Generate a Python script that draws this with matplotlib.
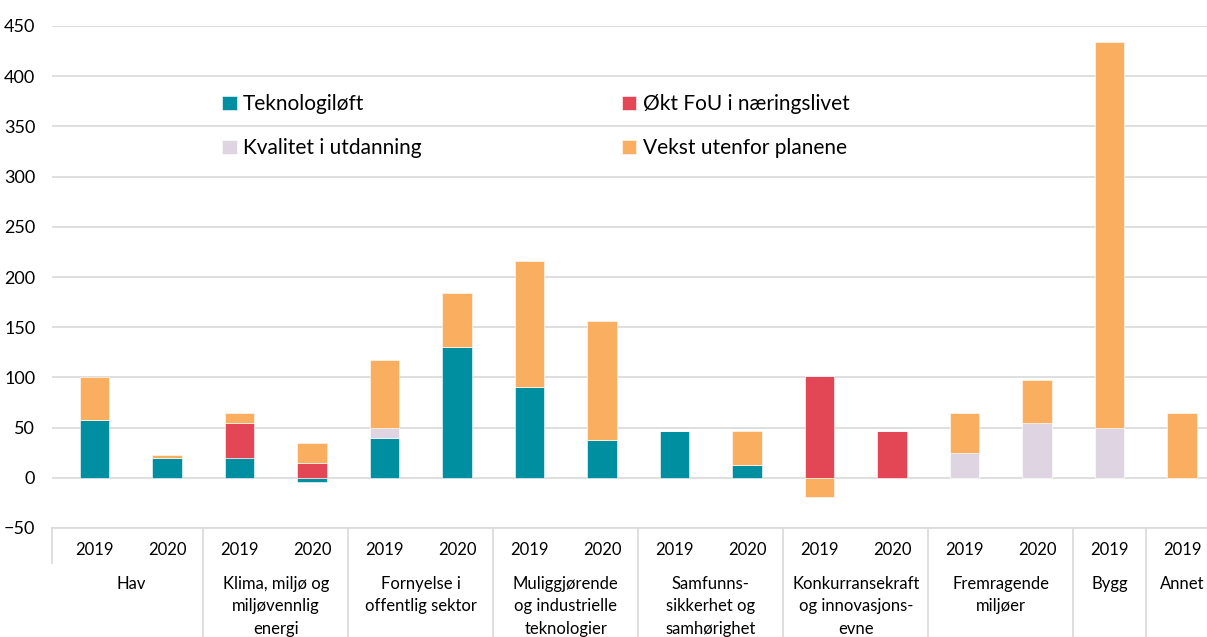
import numpy as np
import matplotlib
matplotlib.use('Agg')
import matplotlib.pyplot as plt
from matplotlib.transforms import blended_transform_factory

plt.rcParams['font.family'] = ['Lato', 'DejaVu Sans']

# one entry per bar slot
years = ["2019", "2020", "2019", "2020", "2019", "2020", "2019", "2020",
         "2019", "2020", "2019", "2020", "2019", "2020", "2019", "2019"]
groups = ["Hav", "Klima, miljø og\nmiljøvennlig\nenergi", "Fornyelse i\noffentlig sektor",
          "Muliggjørende\nog industrielle\nteknologier", "Samfunns-\nsikkerhet og\nsamhørighet",
          "Konkurransekraft\nog innovasjons-\nevne", "Fremragende\nmiljøer", "Bygg", "Annet"]
group_sizes = [2, 2, 2, 2, 2, 2, 2, 1, 1]

teknologi = [58, 20, 20, -4, 40, 130, 90, 38, 47, 13, 0, 0, 0, 0, 0, 0]
fou = [0, 0, 35, 15, 0, 0, 0, 0, 0, 0, 101, 47, 0, 0, 0, 0]
kvalitet = [0, 0, 0, 0, 10, 0, 0, 0, 0, 0, 0, 0, 25, 55, 50, 0]
vekst = [42, 3, 10, 20, 67, 54, 126, 118, 0, 34, -19, 0, 40, 42, 384, 65]

series = [
    ("Teknologiløft", teknologi, "#008FA1"),
    ("Økt FoU i næringslivet", fou, "#E34756"),
    ("Kvalitet i utdanning", kvalitet, "#DFD4E2"),
    ("Vekst utenfor planene", vekst, "#FAAE60"),
]

W, H = 1207, 637
fig = plt.figure(figsize=(W / 100, H / 100), dpi=100)
ax_left, ax_bottom, ax_top = 52, 528, 26
ax = fig.add_axes([ax_left / W, (H - ax_bottom) / H, 1 - ax_left / W, (ax_bottom - ax_top) / H])

x = np.arange(len(years))
pos_base = np.zeros(len(years))
neg_base = np.zeros(len(years))
handles = {}
for name, vals, col in series:
    v = np.array(vals, dtype=float)
    base = np.where(v >= 0, pos_base, neg_base)
    b = ax.bar(x, v, width=0.41, bottom=base, color=col, edgecolor='white', linewidth=0.4,
               label=name, zorder=3)
    handles[name] = b
    pos_base += np.where(v > 0, v, 0)
    neg_base += np.where(v < 0, v, 0)

slot = 72.5
x0 = (ax_left - 94.5) / slot
ax.set_xlim(x0, x0 + (W - ax_left) / slot)
ax.set_ylim(-50, 450)
ax.set_yticks(np.arange(-50, 451, 50))
ax.tick_params(axis='y', length=0, labelsize=13, pad=12, colors='#000000')
ax.set_xticks([])
ax.grid(axis='y', color='#d9d9d9', linewidth=1.2, zorder=0)
for s in ax.spines.values():
    s.set_visible(False)

# category table below the axis
tr = blended_transform_factory(ax.transData, ax.transAxes)
ph = ax_bottom - ax_top
lc = '#d9d9d9'
ax.plot([x0, x0 + 20], [0, 0], transform=tr, color=lc, lw=1.2, clip_on=False)
ax.plot([x0, x0], [0, -35 / ph], transform=tr, color=lc, lw=1.2, clip_on=False)
for i, y in enumerate(years):
    ax.text(i, -22 / ph, y, transform=tr, ha='center', va='center', fontsize=12)
start = 0
for g, n in zip(groups, group_sizes):
    edge = start + n - 0.5
    ax.plot([edge, edge], [0, -120 / ph], transform=tr, color=lc, lw=1.2, clip_on=False)
    ax.text(start + (n - 1) / 2, -48 / ph, g, transform=tr, ha='center', va='top',
            fontsize=12, linespacing=1.5)
    start += n

order = ["Teknologiløft", "Kvalitet i utdanning", "Økt FoU i næringslivet", "Vekst utenfor planene"]
leg = ax.legend([handles[k] for k in order], order, ncol=2, loc='upper left',
                bbox_to_anchor=((214 - ax_left) / (W - ax_left), (ax_bottom - 86) / ph),
                frameon=False, fontsize=15, handlelength=0.7, handleheight=0.7,
                handletextpad=0.3, columnspacing=9.6, labelspacing=1.15, borderaxespad=0)

fig.savefig("out.png", dpi=100)
